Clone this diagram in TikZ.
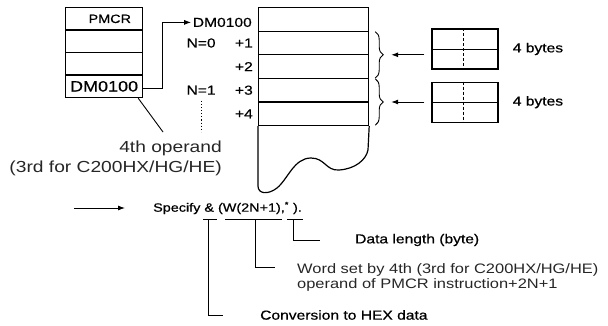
\documentclass[tikz,border=0pt]{standalone}
\usepackage{fontspec}
\setmainfont{Liberation Sans}[FakeStretch=1.2,FakeBold=0.6]
\newfontfamily\lightsans{Liberation Sans}[FakeStretch=1.2]
\usepackage{tikz}
\usetikzlibrary{arrows.meta,positioning,calc,decorations.pathreplacing}
\tikzset{
  cell/.style={draw,line width=1.2pt,minimum width=77pt,minimum height=22.5pt,inner sep=0pt,anchor=north west},
  mcell/.style={draw,line width=1.2pt,minimum width=110pt,minimum height=23.6pt,inner sep=0pt,anchor=north west},
  bytebox/.style={draw,line width=1.2pt,minimum width=66pt,minimum height=40pt,inner sep=0pt},
  txt/.style={inner sep=0pt,font=\fontsize{13}{15}\selectfont},
  note/.style={inner sep=0pt,color=black!85},
  lead/.style={line width=0.9pt},
  arr/.style={-{Latex[length=7pt,width=5pt]}},
  brc/.style={decorate,decoration={brace,amplitude=8pt},line width=0.9pt},
}

\begin{document}
\begin{tikzpicture}[x=1pt,y=-1pt]
    \useasboundingbox (0,0) rectangle (608,326);
    % PMCR operand block
    \foreach \i in {1,...,4}
      \node[cell] (p\i) at (65,{7+(\i-1)*22.5}) {};
    \node[txt,font=\fontsize{12}{14}\selectfont,anchor=east] (pmcr) at ([xshift=-12pt]p1.east) {PMCR};
    \node[txt,font=\fontsize{15}{17}\selectfont] (dmsrc) at (p4.center) {DM0100};
    % data memory words
    \foreach \i in {1,...,5}
      \node[mcell] (m\i) at (258,{7+(\i-1)*23.6}) {};
    \draw[line width=1.2pt] (m5.south west) -- (258,186)
      .. controls (258,194) and (268,195) .. (277,188)
      .. controls (288,179) and (294,158) .. (311,158)
      .. controls (325,158) and (326,171) .. (339,170)
      .. controls (355,169) and (366,160) .. (368,150) -- (m5.south east);
    \node[txt,anchor=east] (dmtop) at ([xshift=-6pt,yshift=-3pt]m1.west) {DM0100};
    \node[txt,anchor=east] (pl1) at ([xshift=-5pt]m2.west) {+1};
    \node[txt,anchor=east] (pl2) at ([xshift=-5pt]m3.west) {+2};
    \node[txt,anchor=east] (pl3) at ([xshift=-5pt]m4.west) {+3};
    \node[txt,anchor=east] (pl4) at ([xshift=-5pt]m5.west) {+4};
    \node[txt,left=19pt of pl1] (n0) {N=0};
    \node[txt,left=19pt of pl3] (n1) {N=1};
    \draw[dotted,line width=1.1pt] ([yshift=-6pt]n1.south) -- ++(0,31);
    \draw[lead,arr,shorten >=1.5pt] ([yshift=-2pt]p4.east) -| ([xshift=-30pt]dmtop.west) -- (dmtop.west);
    % operand note
    \node[note,font=\lightsans\fontsize{16}{20}\selectfont,align=right,anchor=north east] (oplbl) at (222,141) {4th operand\\(3rd for C200HX/HG/HE)};
    \coordinate (opend) at (163,132);
    \draw[lead] ([xshift=-5pt]p4.south east) -- (opend);
    % 4-byte blocks
    \node[bytebox] (b1) at (465,49) {};
    \node[bytebox,below=12pt of b1] (b2) {};
    \foreach \b in {b1,b2} {
      \draw[lead] (\b.west) -- (\b.east);
      \draw[lead,densely dashed] ([xshift=-2pt]\b.north) -- ([xshift=-2pt]\b.south);
    }
    \node[txt,right=14pt of b1] (lb1) {4 bytes};
    \node[txt,right=14pt of b2] (lb2) {4 bytes};
    \draw[brc] ([xshift=6pt,yshift=-1pt]m2.north east) -- ([xshift=6pt,yshift=1pt]m3.south east);
    \draw[brc] ([xshift=6pt,yshift=-1pt]m4.north east) -- ([xshift=6pt,yshift=1pt]m5.south east);
    \coordinate (t1) at ($(m2.north east)!0.5!(m3.south east)+(22,0)$);
    \coordinate (t2) at ($(m4.north east)!0.5!(m5.south east)+(22,0)$);
    \draw[lead,arr] ($(b1.west |- t1)+(-7,0)$) -- (t1);
    \draw[lead,arr] ($(b2.west |- t2)+(-7,0)$) -- (t2);
    % specification line
    \node[txt,font=\fontsize{12}{14}\selectfont,anchor=west] (spec) at (153,208) {Specify \& (W(2N+1),\textsuperscript{*} ).};
    \coordinate (arrtail) at (74,208);
    \draw[lead,arr] (arrtail) -- ([xshift=-28pt]spec.west);
    \coordinate (uamp) at (208,219);
    \coordinate (uword) at (255,219);
    \coordinate (ulen) at (293,219);
    \draw[lead] ([xshift=-5pt]uamp) -- ([xshift=9pt]uamp);
    \draw[lead] ([xshift=-30pt]uword) -- ([xshift=27pt]uword);
    \draw[lead] ([xshift=-6pt]ulen) -- ([xshift=10pt]ulen);
    \node[txt,anchor=west] (datalbl) at (355,240) {Data length (byte)};
    \node[note,font=\lightsans\fontsize{13.7}{15}\selectfont,align=left,anchor=north west] (wordlbl) at (297,263) {Word set by 4th (3rd for C200HX/HG/HE)\\operand of PMCR instruction+2N+1};
    \node[txt,anchor=west] (convlbl) at (260,315) {Conversion to HEX data};
    \coordinate (datain) at (320,240);
    \coordinate (wordin) at (275,267);
    \coordinate (convin) at (223,315);
    \draw[lead] (ulen) |- (datain);
    \draw[lead] (uword) |- (wordin);
    \draw[lead] (uamp) |- (convin);
\end{tikzpicture}
\end{document}
